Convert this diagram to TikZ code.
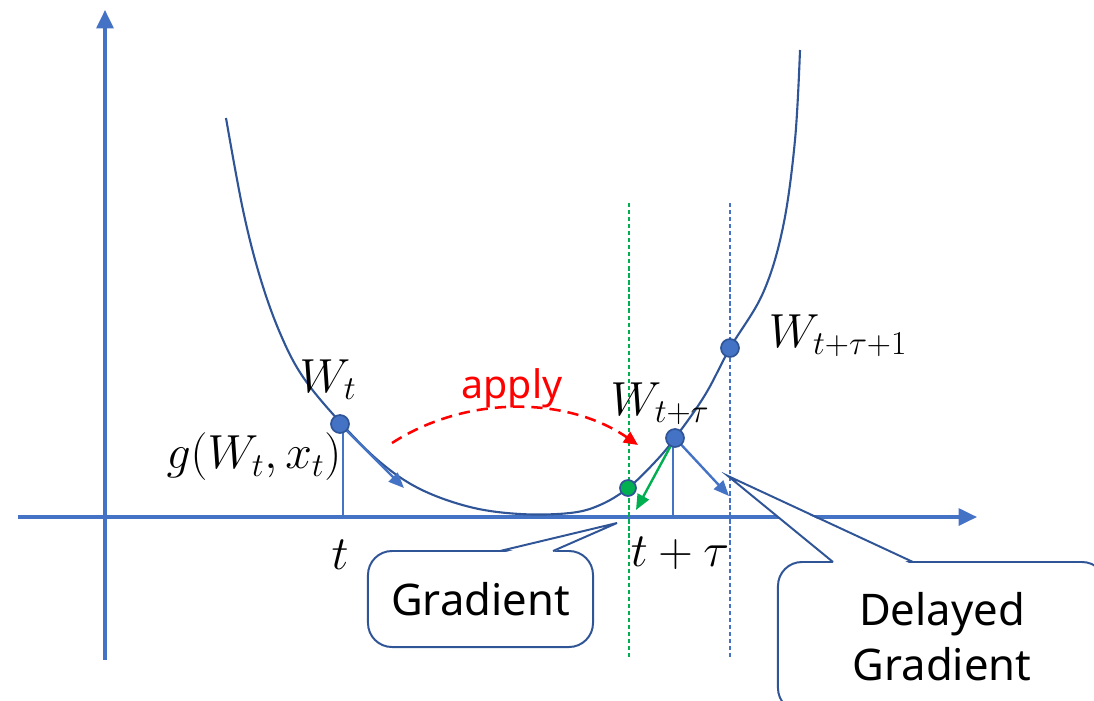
\RequirePackage{fix-cm}
\documentclass[tikz,border=0pt]{standalone}
\usepackage{fontspec}
\setmainfont{Noto Sans}
\usetikzlibrary{arrows.meta}
\definecolor{axblue}{HTML}{4472C4}
\definecolor{dkblue}{HTML}{2F5597}
\definecolor{grn}{HTML}{00B050}
\definecolor{apred}{HTML}{FF0000}
\begin{document}
\begin{tikzpicture}[x=0.025cm,y=-0.025cm,
  axisline/.style={axblue,line width=2.2pt,-{Triangle[length=13pt,width=12pt]}},
  curveline/.style={dkblue,line width=1.5pt},
  thinv/.style={axblue,line width=1pt},
  vdash/.style={line width=0.8pt,dash pattern=on 3pt off 2pt},
  tanarrow/.style={axblue,line width=1.7pt,-{Triangle[length=11pt,width=9pt]}},
  grnarrow/.style={grn,line width=1.7pt,-{Triangle[length=11pt,width=9pt]}},
  pt/.style={circle,fill=axblue,draw=dkblue,line width=1.2pt,inner sep=0pt,minimum size=0.45cm},
  gpt/.style={circle,fill=grn,draw=dkblue,line width=1.2pt,inner sep=0pt,minimum size=0.4cm},
  mlabel/.style={inner sep=0pt,font=\fontsize{34}{40}\selectfont},
  callout/.style={draw=dkblue,line width=1.4pt,rounded corners=0.6cm,fill=white,align=center,font=\fontsize{31}{39}\selectfont}
]
\useasboundingbox (0,0) rectangle (1094,700);
\clip (0,0) rectangle (1094,700);

% axes
\coordinate (yb) at (105,660);
\coordinate (yt) at (105,10);
\coordinate (xl) at (18,517);
\coordinate (xr) at (977,517);
\draw[axisline] (yb) -- (yt);
\draw[axisline] (xl) -- (xr);

% dashed verticals
\coordinate (gdt) at (629,203);
\coordinate (gdb) at (629,660);
\coordinate (bdt) at (730,203);
\coordinate (bdb) at (730,660);
\draw[vdash,grn] (gdt) -- (gdb);
\draw[vdash,axblue] (bdt) -- (bdb);

% curve
\draw[curveline] plot[smooth,tension=0.6] coordinates {(226,118) (243,210) (260,277) (280,333) (303,377) (340,422) (380,462) (420,489) (470,507) (520,514) (570,513) (600,505) (628,488) (655,462) (675,438) (705,395) (730,348) (763,293) (783,227) (795,140) (800,50)};

% point coordinates
\coordinate (cWt) at (340,424);
\coordinate (cWtt) at (675,438);
\coordinate (cWtt1) at (730,348);
\coordinate (cG) at (628,488);

% thin verticals
\coordinate (aWt) at (343,517);
\coordinate (aWtt) at (673,517);
\draw[thinv] (343,430) -- (aWt);
\draw[thinv] (673,444) -- (aWtt);

% gradient arrows
\coordinate (tipA) at (404,488);
\coordinate (tipB) at (729,496);
\coordinate (tipC) at (636,510);
\draw[tanarrow] (cWt) -- (tipA);
\draw[tanarrow] (cWtt) -- (tipB);
\draw[grnarrow] (cWtt) -- (tipC);

% apply arrow
\coordinate (apS) at (392,443);
\coordinate (apE) at (638,445);
\draw[apred,line width=1.8pt,dash pattern=on 8pt off 5pt,-{Triangle[length=10pt,width=9pt]}] (apS) .. controls (470,393) and (570,398) .. (apE);
\node[text=apred,font=\fontsize{28}{34}\selectfont,inner sep=0pt] (apply) at (512,388) {apply};

% points
\node[pt] (Wt) at (cWt) {};
\node[pt] (Wtt) at (cWtt) {};
\node[pt] (Wtt1) at (cWtt1) {};
\node[gpt] (G) at (cG) {};

% math labels
\node[mlabel] (lWt) at (328,380) {$W_t$};
\node[mlabel] (lg) at (254,457) {$g(W_t,x_t)$};
\node[mlabel] (lWtt) at (660,404) {$W_{t+\tau}$};
\node[mlabel] (lWtt1) at (838,336) {$W_{t+\tau+1}$};
\node[mlabel] (lt) at (340,555) {$t$};
\node[mlabel] (ltt) at (680,553) {$t+\tau$};

% callouts
\node[callout,minimum width=5.625cm,minimum height=2.4cm] (grad) at (480.5,599) {Gradient};
\coordinate (gtip) at (617,523);
\fill[white] (502,553) -- (gtip) -- (551,553) -- cycle;
\draw[dkblue,line width=1.4pt,line join=miter] (500,551) -- (gtip) -- (553,551);

\node[callout,minimum width=8.2cm,minimum height=3.75cm] (dgrad) at (942,637) {Delayed\\Gradient};
\coordinate (dtip) at (728,476);
\fill[white] (835,564) -- (dtip) -- (911,564) -- cycle;
\draw[dkblue,line width=1.4pt,line join=miter] (833,562) -- (dtip) -- (913,562);
\end{tikzpicture}
\end{document}
